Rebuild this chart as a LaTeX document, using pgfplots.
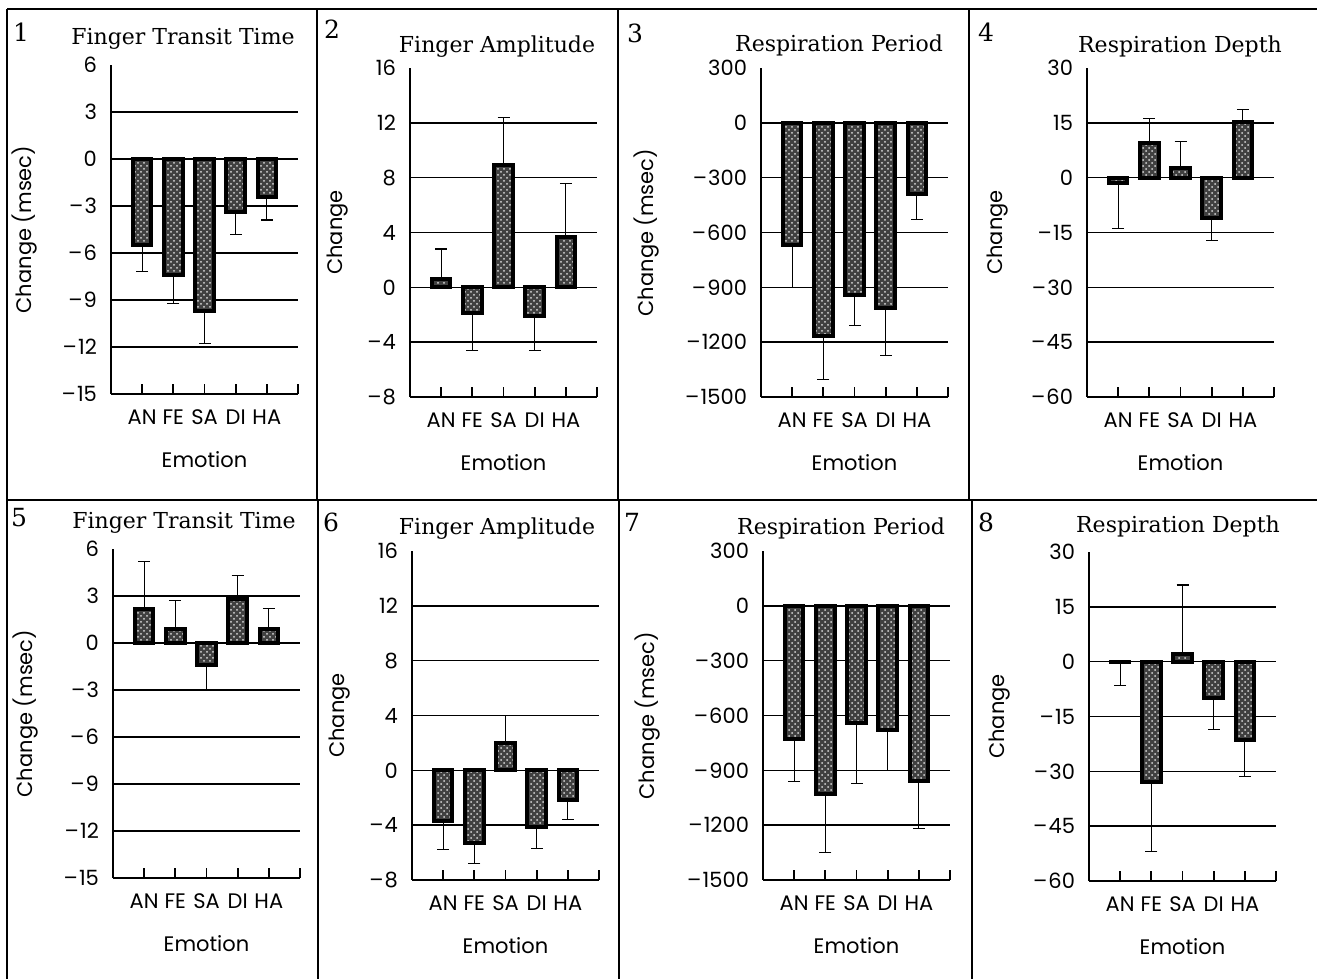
\documentclass[border=0pt]{standalone}
\usepackage{fontspec}
\setmainfont{Poppins}
\newfontfamily\serif{DejaVu Serif}
\usepackage{pgfplots}
\pgfplotsset{compat=1.18}
\usepackage{pgfplotstable}
\usetikzlibrary{patterns}

% x  mean  err+  err-
\pgfplotstableread{
x y ep em
1 -5.5 0 1.7
2 -7.4 0 1.8
3 -9.7 0 2.1
4 -3.4 0 1.4
5 -2.4 0 1.5
}\dA
\pgfplotstableread{
x y ep em
1 0.6 2.2 0
2 -1.9 0 2.7
3 8.9 3.5 0
4 -2.1 0 2.5
5 3.7 3.9 0
}\dB
\pgfplotstableread{
x y ep em
1 -670 0 230
2 -1165 0 240
3 -940 0 170
4 -1015 0 260
5 -390 0 140
}\dC
\pgfplotstableread{
x y ep em
1 -1.4 0 12.6
2 9.4 6.8 0
3 2.7 7.3 0
4 -11 0 6.1
5 15.3 3.3 0
}\dD
\pgfplotstableread{
x y ep em
1 2.2 3.0 0
2 0.9 1.8 0
3 -1.4 0 1.6
4 2.8 1.5 0
5 0.9 1.3 0
}\dE
\pgfplotstableread{
x y ep em
1 -3.7 0 2.1
2 -5.3 0 1.5
3 2.0 2.0 0
4 -4.1 0 1.6
5 -2.2 0 1.4
}\dF
\pgfplotstableread{
x y ep em
1 -730 0 230
2 -1030 0 320
3 -640 0 330
4 -680 0 220
5 -960 0 260
}\dG
\pgfplotstableread{
x y ep em
1 -0.2 0 6.3
2 -33 0 19
3 2 19 0
4 -10 0 8.5
5 -21.5 0 10
}\dH

\newcommand{\mn}{–\kern0.6pt}
\pgfplotsset{
  panel/.style={
    scale only axis, width=93.5pt, height=164.5pt,
    anchor=south west,
    xmin=0, xmax=6,
    axis lines*=left,
    axis line style={line width=0.9pt},
    xtick={1,2,3,4,5}, xticklabels={AN,FE,SA,DI,HA},
    extra x ticks={6}, extra x tick labels={},
    tick align=inside, major tick length=5pt,
    x tick style={line width=0.9pt, black},
    y tick style={draw=none},
    extra y tick style={grid=none, tick style={draw=black, line width=0.9pt}},
    ymajorgrids, major grid style={line width=0.7pt, black},
    tick label style={font=\fontsize{10.5}{12}\selectfont},
    label style={font=\fontsize{10.5}{12}\selectfont},
    xticklabel style={anchor=center, yshift=-11.5pt},
    yticklabel style={xshift=-3.5pt},
    xlabel={Emotion},
    xlabel style={at={(axis description cs:0.5,-0.2)}, anchor=center},
    clip=false,
  },
  bars/.style={ybar, bar width=9.3pt, draw=black, line width=2pt,
    preaction={fill=black!75}, pattern=crosshatch dots, pattern color=black!15,
    error bars/.cd, y dir=both, y explicit,
    error bar style={line width=0.6pt, black, solid},
    error mark options={rotate=90, black, mark size=3pt, line width=0.6pt}},
}
\newcommand{\ttl}{\serif\fontsize{11}{13}\selectfont}
\newcommand{\num}{\serif\fontsize{12.5}{14}\selectfont}

\begin{document}
\begin{tikzpicture}[x=0.5pt, y=0.5pt]
% frame
\draw[line width=1pt] (7,970) -- (1317,970);
\draw[line width=1pt] (7,479) -- (1317,479);
\draw[line width=1pt] (7,970) -- (7,0);
\draw[line width=1pt] (317,970) -- (317,479) (618,970) -- (618,479) (969,970) -- (969,479);
\draw[line width=1pt] (318,479) -- (318,0) (619,479) -- (619,0) (972,479) -- (972,0);

% panel numbers and titles
\node[font=\num] at (21,947) {1};
\node[font=\num] at (332,950) {2};
\node[font=\num] at (635,946) {3};
\node[font=\num] at (986,947) {4};
\node[font=\num] at (19,461) {5};
\node[font=\num] at (331,457) {6};
\node[font=\num] at (632,457) {7};
\node[font=\num] at (986,457) {8};
\node[font=\ttl, anchor=base] at (183,934) {Finger Transit Time};
\node[font=\ttl, anchor=base] at (497,926) {Finger Amplitude};
\node[font=\ttl, anchor=base] at (839,927) {Respiration Period};
\node[font=\ttl, anchor=base] at (1180,926) {Respiration Depth};
\node[font=\ttl, anchor=base] at (184,450) {Finger Transit Time};
\node[font=\ttl, anchor=base] at (497,444) {Finger Amplitude};
\node[font=\ttl, anchor=base] at (841,444) {Respiration Period};
\node[font=\ttl, anchor=base] at (1178,446) {Respiration Depth};

% 1
\begin{axis}[panel, at={(55.5pt,292.5pt)},
  ymin=-15, ymax=6, ytick={-15,-12,-9,-6,-3,0,3},
  yticklabels={\mn15,\mn12,\mn9,\mn6,\mn3,0,3}, extra y ticks={6}, extra y tick labels={6},
  ylabel={Change (msec)}, ylabel style={at={(axis description cs:-0.46,0.5)}, anchor=center}]
\addplot[bars] table[x=x, y=y, y error plus=ep, y error minus=em] {\dA};
\end{axis}
% 2
\begin{axis}[panel, at={(205pt,291pt)},
  ymin=-8, ymax=16, ytick={-8,-4,0,4,8,12},
  yticklabels={\mn8,\mn4,0,4,8,12}, extra y ticks={16}, extra y tick labels={16},
  ylabel={Change}, ylabel style={at={(axis description cs:-0.39,0.5)}, anchor=center}]
\addplot[bars] table[x=x, y=y, y error plus=ep, y error minus=em] {\dB};
\end{axis}
% 3
\begin{axis}[panel, at={(380.5pt,291pt)},
  ymin=-1500, ymax=300, ytick={-1500,-1200,-900,-600,-300,0},
  yticklabels={\mn1500,\mn1200,\mn900,\mn600,\mn300,0}, extra y ticks={300}, extra y tick labels={300},
  ylabel={Change (msec)}, ylabel style={at={(axis description cs:-0.61,0.5)}, anchor=center}]
\addplot[bars] table[x=x, y=y, y error plus=ep, y error minus=em] {\dC};
\end{axis}
% 4
\begin{axis}[panel, at={(543.5pt,291pt)},
  ymin=-60, ymax=30, ytick={-60,-45,-30,-15,0,15},
  yticklabels={\mn60,\mn45,\mn30,\mn15,0,15}, extra y ticks={30}, extra y tick labels={30},
  ylabel={Change}, ylabel style={at={(axis description cs:-0.48,0.5)}, anchor=center}]
\addplot[bars] table[x=x, y=y, y error plus=ep, y error minus=em] {\dD};
\end{axis}
% 5
\begin{axis}[panel, at={(56.5pt,50.5pt)},
  ymin=-15, ymax=6, ytick={-15,-12,-9,-6,-3,0,3},
  yticklabels={\mn15,\mn12,\mn9,\mn6,\mn3,0,3}, extra y ticks={6}, extra y tick labels={6},
  ylabel={Change (msec)}, ylabel style={at={(axis description cs:-0.47,0.5)}, anchor=center}]
\addplot[bars] table[x=x, y=y, y error plus=ep, y error minus=em] {\dE};
\end{axis}
% 6
\begin{axis}[panel, at={(206pt,49.5pt)},
  ymin=-8, ymax=16, ytick={-8,-4,0,4,8,12},
  yticklabels={\mn8,\mn4,0,4,8,12}, extra y ticks={16}, extra y tick labels={16},
  ylabel={Change}, ylabel style={at={(axis description cs:-0.39,0.5)}, anchor=center}]
\addplot[bars] table[x=x, y=y, y error plus=ep, y error minus=em] {\dF};
\end{axis}
% 7
\begin{axis}[panel, at={(381.5pt,49.5pt)},
  ymin=-1500, ymax=300, ytick={-1500,-1200,-900,-600,-300,0},
  yticklabels={\mn1500,\mn1200,\mn900,\mn600,\mn300,0}, extra y ticks={300}, extra y tick labels={300},
  ylabel={Change (msec)}, ylabel style={at={(axis description cs:-0.62,0.5)}, anchor=center}]
\addplot[bars] table[x=x, y=y, y error plus=ep, y error minus=em] {\dG};
\end{axis}
% 8
\begin{axis}[panel, at={(544.5pt,49pt)},
  ymin=-60, ymax=30, ytick={-60,-45,-30,-15,0,15},
  yticklabels={\mn60,\mn45,\mn30,\mn15,0,15}, extra y ticks={30}, extra y tick labels={30},
  ylabel={Change}, ylabel style={at={(axis description cs:-0.48,0.5)}, anchor=center}]
\addplot[bars] table[x=x, y=y, y error plus=ep, y error minus=em] {\dH};
\end{axis}

\pgfresetboundingbox
\path (0,0) rectangle (1317,979);
\end{tikzpicture}
\end{document}
